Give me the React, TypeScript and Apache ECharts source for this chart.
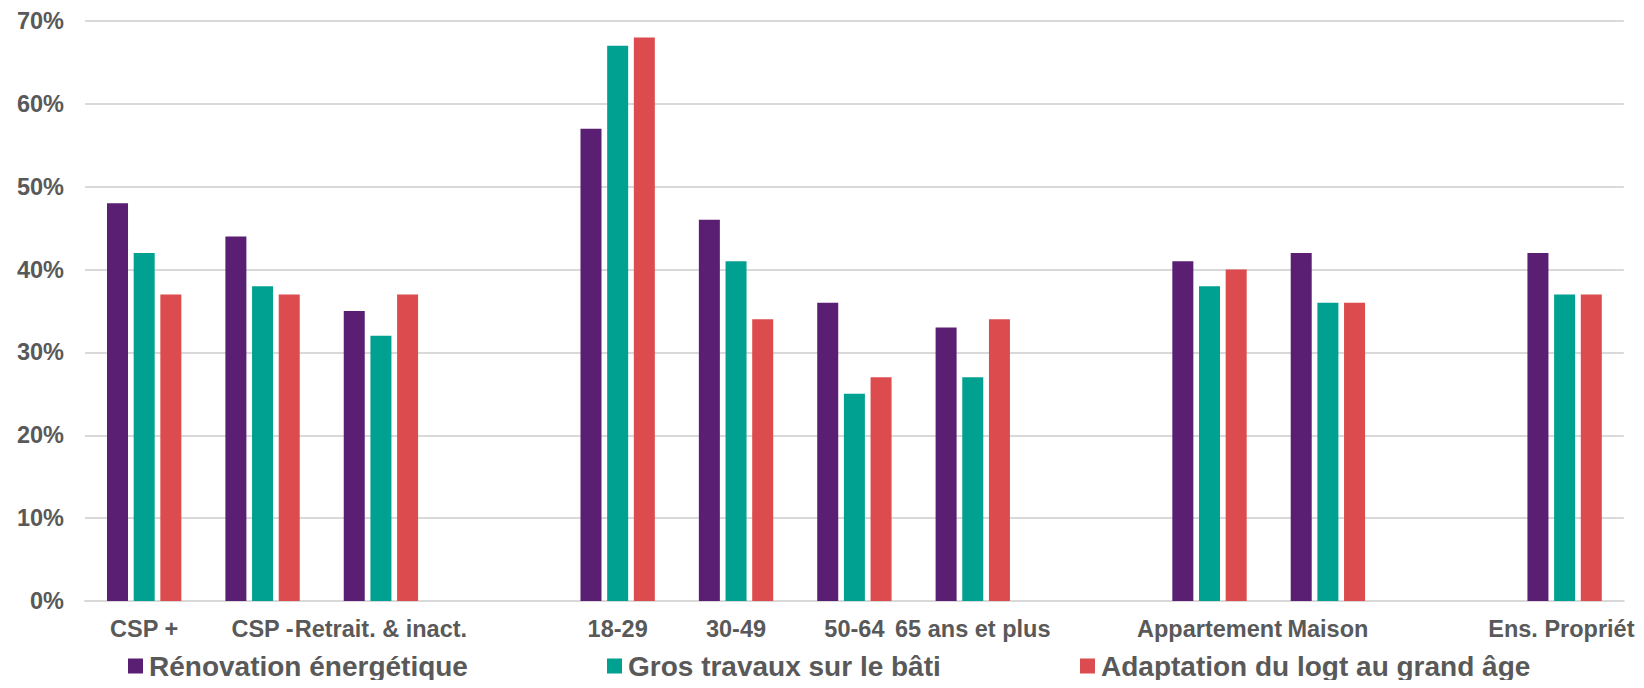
import React, { useEffect, useRef } from "react";
import * as echarts from "echarts";

const categories = [
  "CSP +",
  "CSP -",
  "Retrait. & inact.",
  "",
  "18-29",
  "30-49",
  "50-64",
  "65 ans et plus",
  "",
  "Appartement",
  "Maison",
  "",
  "Ens. Propriét.",
];

const renovation = [48, 44, 35, null, 57, 46, 36, 33, null, 41, 42, null, 42];
const grosTravaux = [42, 38, 32, null, 67, 41, 25, 27, null, 38, 36, null, 37];
const adaptation = [37, 37, 37, null, 68, 34, 27, 34, null, 40, 36, null, 37];

const seriesNames = [
  "Rénovation énergétique",
  "Gros travaux sur le bâti",
  "Adaptation du logt au grand âge",
];
const seriesColors = ["#5A1E72", "#00A191", "#DC4B4D"];
const yTicks = { min: 0, max: 70, interval: 10 };

const FONT = "'Liberation Sans', Arial, sans-serif";
const TEXT = "#595959";

export default function App() {
  const ref = useRef<HTMLDivElement>(null);
  useEffect(() => {
    if (!ref.current) return;
    const chart = echarts.init(ref.current, null, { renderer: "svg" });
    const values = [renovation, grosTravaux, adaptation];
    const legendLefts = [128, 607, 1080];
    chart.setOption({
      animation: false,
      backgroundColor: "#ffffff",
      textStyle: { fontFamily: FONT },
      grid: { left: 85, right: 20, top: 21, bottom: 87, containLabel: false },
      legend: seriesNames.map((n, i) => ({
        data: [n],
        left: legendLefts[i],
        top: 652,
        icon: "rect",
        itemWidth: 15,
        itemHeight: 15,
        itemGap: 0,
        padding: 0,
        textStyle: {
          fontFamily: FONT,
          fontSize: 28,
          fontWeight: "bold",
          color: TEXT,
          padding: [0, 0, 0, 1],
        },
      })),
      xAxis: {
        type: "category",
        data: categories,
        axisLine: { show: true, lineStyle: { color: "#D9D9D9", width: 2 } },
        axisTick: { show: false },
        axisLabel: {
          interval: 0,
          margin: 16,
          fontFamily: FONT,
          fontSize: 23.5,
          fontWeight: "bold",
          color: TEXT,
        },
      },
      yAxis: {
        type: "value",
        min: yTicks.min,
        max: yTicks.max,
        interval: yTicks.interval,
        axisLine: { show: false },
        axisTick: { show: false },
        splitLine: { lineStyle: { color: "#D9D9D9", width: 2 } },
        axisLabel: {
          formatter: "{value}%",
          margin: 21,
          fontFamily: FONT,
          fontSize: 23.5,
          fontWeight: "bold",
          color: TEXT,
        },
      },
      series: seriesNames.map((n, i) => ({
        name: n,
        type: "bar",
        data: values[i],
        barWidth: 21,
        barGap: "27%",
        itemStyle: { color: seriesColors[i] },
      })),
    });
    return () => chart.dispose();
  }, []);
  return <div ref={ref} style={{ width: 1644, height: 688, margin: -8 }} />;
}
